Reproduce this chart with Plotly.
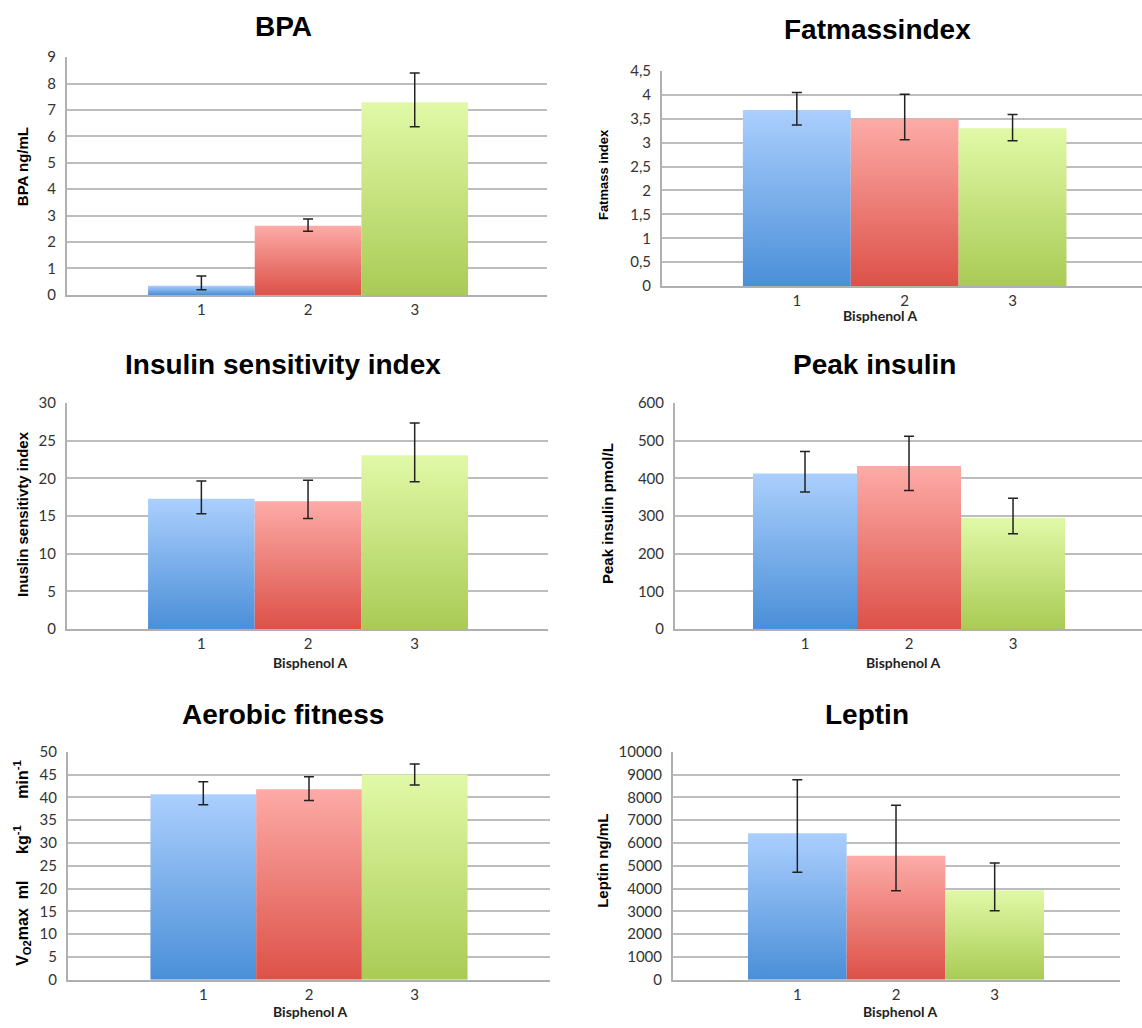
import plotly.graph_objects as go

W, H = 1142, 1028

groups = [1, 2, 3]
group_labels = ["1", "2", "3"]

# --- data (means, upper and lower ends of error bars) ---
bpa_mean = [0.35, 2.62, 7.29]
bpa_hi = [0.72, 2.87, 8.40]
bpa_lo = [0.20, 2.41, 6.37]

fat_mean = [3.68, 3.50, 3.30]
fat_hi = [4.05, 4.01, 3.59]
fat_lo = [3.37, 3.06, 3.04]

isi_mean = [17.3, 16.95, 23.05]
isi_hi = [19.65, 19.75, 27.35]
isi_lo = [15.3, 14.65, 19.55]

peak_mean = [413, 433, 295]
peak_hi = [471, 512, 347]
peak_lo = [364, 368, 253]

vo2_mean = [40.7, 41.8, 45.0]
vo2_hi = [43.4, 44.5, 47.3]
vo2_lo = [38.4, 39.3, 42.7]

lep_mean = [6430, 5440, 3930]
lep_hi = [8770, 7650, 5120]
lep_lo = [4720, 3900, 3030]

bar_bottom = ["#4a8fd8", "#dc5148", "#a9cb55"]
bar_top = ["#abcffd", "#fdaba7", "#e1f9a7"]

VO2_TITLE = ("V<sub>O2</sub>max\u00a0\u00a0ml\u00a0\u00a0\u00a0\u00a0\u00a0\u00a0kg<sup>-1</sup>"
             "\u00a0\u00a0\u00a0\u00a0\u00a0\u00a0min<sup>-1</sup>")

panels = [
    dict(title="BPA", ytitle="BPA ng/mL", xtitle=None, mean=bpa_mean, hi=bpa_hi, lo=bpa_lo,
         yr=[0, 9], dt=1, px=(67, 547), py=(48, 290), xr=[-0.26, 4.24],
         tpos=(283, 17), ytpos=(22, 160), ytsize=15, xtpos=None),
    dict(title="Fatmassindex", ytitle="Fatmass index", xtitle="Bisphenol A", mean=fat_mean, hi=fat_hi, lo=fat_lo,
         yr=[0, 4.5], dt=0.5, px=(662, 1142), py=(62, 281), xr=[-0.25, 4.2],
         tpos=(877, 20), ytpos=(603, 168), ytsize=13, xtpos=(880, 311)),
    dict(title="Insulin sensitivity index", ytitle="Inuslin sensitivty index", xtitle="Bisphenol A",
         mean=isi_mean, hi=isi_hi, lo=isi_lo,
         yr=[0, 30], dt=5, px=(67, 548), py=(400, 630), xr=[-0.26, 4.25],
         tpos=(283, 361), ytpos=(22, 513), ytsize=15, xtpos=(310, 664)),
    dict(title="Peak insulin", ytitle="Peak insulin pmol/L", xtitle="Bisphenol A",
         mean=peak_mean, hi=peak_hi, lo=peak_lo,
         yr=[0, 600], dt=100, px=(675, 1142), py=(400, 630), xr=[-0.25, 4.24],
         tpos=(875, 361), ytpos=(607, 513), ytsize=15, xtpos=(903, 664)),
    dict(title="Aerobic fitness", ytitle=VO2_TITLE, xtitle="Bisphenol A",
         mean=vo2_mean, hi=vo2_hi, lo=vo2_lo,
         yr=[0, 50], dt=5, px=(68, 550), py=(755, 987), xr=[-0.28, 4.28],
         tpos=(283, 717), ytpos=(22, 868), ytsize=16, xtpos=(310, 1019)),
    dict(title="Leptin", ytitle="Leptin ng/mL", xtitle="Bisphenol A",
         mean=lep_mean, hi=lep_hi, lo=lep_lo,
         yr=[0, 10000], dt=1000, px=(673, 1120), py=(755, 987), xr=[-0.26, 4.27],
         tpos=(867, 717), ytpos=(603, 866), ytsize=15, xtpos=(900, 1019)),
]

fig = go.Figure()
annotations = []
TICKFONT = dict(family="Lato, Open Sans, sans-serif", size=15, color="#333333")
BOLD = "Liberation Sans, Arial, sans-serif"

for i, p in enumerate(panels):
    n = "" if i == 0 else str(i + 1)
    xa, ya = "x" + n, "y" + n
    # bars as gradient-filled rectangles built from the data
    for g, m, cb, ct in zip(groups, p["mean"], bar_bottom, bar_top):
        fig.add_trace(go.Scatter(
            x=[g - 0.5, g - 0.5, g + 0.5, g + 0.5, g - 0.5],
            y=[0, m, m, 0, 0],
            mode="lines", line=dict(width=0), fill="toself",
            fillgradient=dict(type="vertical", colorscale=[[0, cb], [1, ct]]),
            xaxis=xa, yaxis=ya, showlegend=False, hoverinfo="skip"))
    # error bars
    fig.add_trace(go.Scatter(
        x=groups, y=p["mean"], mode="markers",
        marker=dict(size=1, opacity=0),
        error_y=dict(type="data", symmetric=False,
                     array=[h - m for h, m in zip(p["hi"], p["mean"])],
                     arrayminus=[m - l for l, m in zip(p["lo"], p["mean"])],
                     color="#222222", thickness=1.5, width=5),
        xaxis=xa, yaxis=ya, showlegend=False))

    x0, x1 = p["px"]
    y0, y1 = p["py"]
    xd = [x0 / W, x1 / W]
    yd = [1 - y1 / H, 1 - y0 / H]
    xkey = "xaxis" + n
    ykey = "yaxis" + n
    fig.update_layout(**{
        xkey: dict(domain=xd, range=p["xr"], anchor=ya, tickvals=groups, ticktext=group_labels,
                   showgrid=False, zeroline=False, showline=True, linecolor="#b0b0b0", linewidth=2,
                   ticks="", tickfont=TICKFONT, fixedrange=True),
        ykey: dict(domain=yd, range=p["yr"], dtick=p["dt"], anchor=xa,
                   showgrid=True, gridcolor="#bdbdbd", gridwidth=1.5, zeroline=False,
                   showline=True, linecolor="#b0b0b0", linewidth=2, ticks="",
                   tickfont=TICKFONT, tickformat="d" if p["dt"] >= 1 else None,
                   ticklabelstandoff=6, fixedrange=True),
    })
    tx, ty = p["tpos"]
    annotations.append(dict(text="<b>" + p["title"] + "</b>", x=tx / W, y=1 - ty / H,
                            xref="paper", yref="paper", showarrow=False,
                            xanchor="center", yanchor="middle",
                            font=dict(family=BOLD, size=28, color="#000000")))
    yx, yy = p["ytpos"]
    annotations.append(dict(text="<b>" + p["ytitle"] + "</b>", x=yx / W, y=1 - yy / H,
                            xref="paper", yref="paper", showarrow=False, textangle=-90,
                            xanchor="center", yanchor="middle",
                            font=dict(family=BOLD, size=p["ytsize"], color="#000000")))
    if p["xtitle"]:
        bx, by = p["xtpos"]
        annotations.append(dict(text="<b>" + p["xtitle"] + "</b>", x=bx / W, y=1 - by / H,
                                xref="paper", yref="paper", showarrow=False,
                                xanchor="center", yanchor="middle",
                                font=dict(family="Lato, Open Sans, sans-serif", size=14, color="#222222")))

fig.update_layout(width=W, height=H, margin=dict(l=0, r=0, t=0, b=0),
                  paper_bgcolor="white", plot_bgcolor="white",
                  separators=", ", annotations=annotations, showlegend=False)

fig.write_html("out.html", config={"displayModeBar": False},
               post_script="document.body.style.margin='0';")
